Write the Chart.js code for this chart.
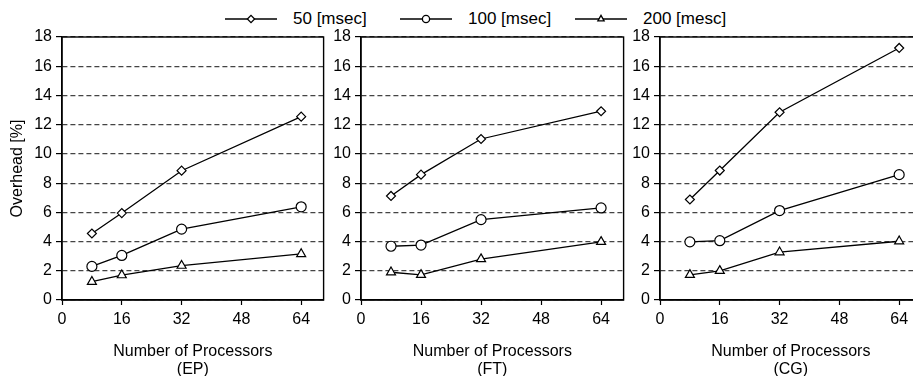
<!DOCTYPE html>
<html>
<head>
<meta charset="utf-8">
<script src="https://cdn.jsdelivr.net/npm/chart.js@4.4.0/dist/chart.umd.min.js"></script>
<style>
  html, body { margin: 0; padding: 0; background: #fff; overflow: hidden; }
  #wrap { position: relative; width: 913px; height: 376px; overflow: hidden; background: #fff; }
  #wrap canvas.panel { position: absolute; top: 0; }
  .leg { position: absolute; top: 8px; height: 22px; display: flex; align-items: center;
         font-family: "Liberation Sans", Arial, sans-serif; font-size: 17px; color: #000; white-space: nowrap; }
  .leg canvas { margin-right: 16px; }
</style>
</head>
<body>
<div id="wrap">
  <div class="leg" style="left:225px"><canvas id="lg0" width="52" height="14"></canvas>50 [msec]</div>
  <div class="leg" style="left:400px"><canvas id="lg1" width="52" height="14"></canvas>100 [msec]</div>
  <div class="leg" style="left:575px"><canvas id="lg2" width="52" height="14"></canvas>200 [mesc]</div>
  <canvas class="panel" id="c0" width="330" height="379" style="left:0px"></canvas>
  <canvas class="panel" id="c1" width="300" height="379" style="left:330px"></canvas>
  <canvas class="panel" id="c2" width="300" height="379" style="left:628px"></canvas>
</div>
<script>
// data
const procs = [8, 16, 32, 64];
const seriesNames = ['50 [msec]', '100 [msec]', '200 [mesc]'];
const markers = ['rectRot', 'circle', 'triangle'];
const markerSize = [4.5, 5, 5.2];

const ep50 = [4.55, 5.95, 8.85, 12.55];
const ep100 = [2.3, 3.05, 4.85, 6.38];
const ep200 = [1.25, 1.7, 2.35, 3.15];

const ft50 = [7.12, 8.58, 11.02, 12.92];
const ft100 = [3.68, 3.76, 5.5, 6.3];
const ft200 = [1.9, 1.72, 2.8, 3.98];

const cg50 = [6.88, 8.86, 12.85, 17.25];
const cg100 = [3.98, 4.06, 6.12, 8.58];
const cg200 = [1.72, 2.0, 3.27, 4.02];

const xTicks = [0, 16, 32, 48, 64];
const yTicks = [0, 2, 4, 6, 8, 10, 12, 14, 16, 18];

const panels = [
    { id: 'c0', name: '(EP)', values: [ep50, ep100, ep200], yWidth: 62, padRight: 5, yTitle: true },
    { id: 'c1', name: '(FT)', values: [ft50, ft100, ft200], yWidth: 31, padRight: 6, yTitle: false },
    { id: 'c2', name: '(CG)', values: [cg50, cg100, cg200], yWidth: 32, padRight: 6, yTitle: false }
];

const FONT = '"Liberation Sans", Arial, sans-serif';

// black box round the plot area
const framePlugin = {
    id: 'frame',
    beforeDatasetsDraw(chart) {
        const a = chart.chartArea;
        const ctx = chart.ctx;
        ctx.save();
        ctx.strokeStyle = '#000';
        ctx.lineWidth = 1.4;
        ctx.strokeRect(a.left, a.top, a.right - a.left, a.bottom - a.top);
        ctx.restore();
    }
};

panels.forEach(function(p) {
    const datasets = p.values.map(function(vals, i) {
        return {
            label: seriesNames[i],
            data: procs.map(function(x, j) { return { x: x, y: vals[j] }; }),
            borderColor: '#000',
            borderWidth: 1.3,
            backgroundColor: '#fff',
            pointStyle: markers[i],
            pointRadius: markerSize[i],
            pointBorderWidth: 1.2,
            pointBackgroundColor: '#fff',
            pointBorderColor: '#000',
            tension: 0
        };
    });

    new Chart(document.getElementById(p.id), {
        type: 'line',
        data: { datasets: datasets },
        options: {
            responsive: false,
            animation: false,
            layout: { padding: { top: 37, right: p.padRight, left: 0, bottom: 0 } },
            plugins: { legend: { display: false }, tooltip: { enabled: false } },
            scales: {
                x: {
                    type: 'linear',
                    min: 0,
                    max: 70,
                    afterBuildTicks: function(axis) {
                        axis.ticks = xTicks.map(function(v) { return { value: v }; });
                    },
                    afterFit: function(axis) { axis.height = 79; },
                    ticks: { color: '#000', font: { family: FONT, size: 16 }, padding: 5, maxRotation: 0 },
                    grid: { drawOnChartArea: false, tickLength: 5, tickColor: '#000', tickWidth: 1.2 },
                    border: { display: true, color: '#000', width: 1.4 },
                    title: {
                        display: true,
                        text: ['Number of Processors', p.name],
                        color: '#000',
                        font: { family: FONT, size: 16, lineHeight: 1.125 },
                        padding: { top: 0, bottom: 0 }
                    }
                },
                y: {
                    min: 0,
                    max: 18,
                    afterBuildTicks: function(axis) {
                        axis.ticks = yTicks.map(function(v) { return { value: v }; });
                    },
                    afterFit: function(axis) { axis.width = p.yWidth; },
                    ticks: { color: '#000', font: { family: FONT, size: 16 }, padding: 4 },
                    grid: { color: '#444', lineWidth: 1.2, tickLength: 6, tickColor: '#000', tickWidth: 1.2, tickBorderDash: [] },
                    border: { display: true, color: '#000', width: 1.4, dash: [5, 3] },
                    title: {
                        display: p.yTitle,
                        text: 'Overhead [%]',
                        color: '#000',
                        font: { family: FONT, size: 16, lineHeight: 1.125 },
                        padding: { top: 9, bottom: 0 }
                    }
                }
            }
        },
        plugins: [framePlugin]
    });
});

// legend icons: short line with the series marker in the middle
seriesNames.forEach(function(name, i) {
    const c = document.getElementById('lg' + i);
    const ctx = c.getContext('2d');
    ctx.strokeStyle = '#000';
    ctx.lineWidth = 1.3;
    ctx.beginPath();
    ctx.moveTo(0, 7);
    ctx.lineTo(52, 7);
    ctx.stroke();
    ctx.fillStyle = '#fff';
    Chart.helpers.drawPoint(ctx, { pointStyle: markers[i], radius: 3.6, borderWidth: 1.1, rotation: 0 }, 26, 7);
});
</script>
</body>
</html>
